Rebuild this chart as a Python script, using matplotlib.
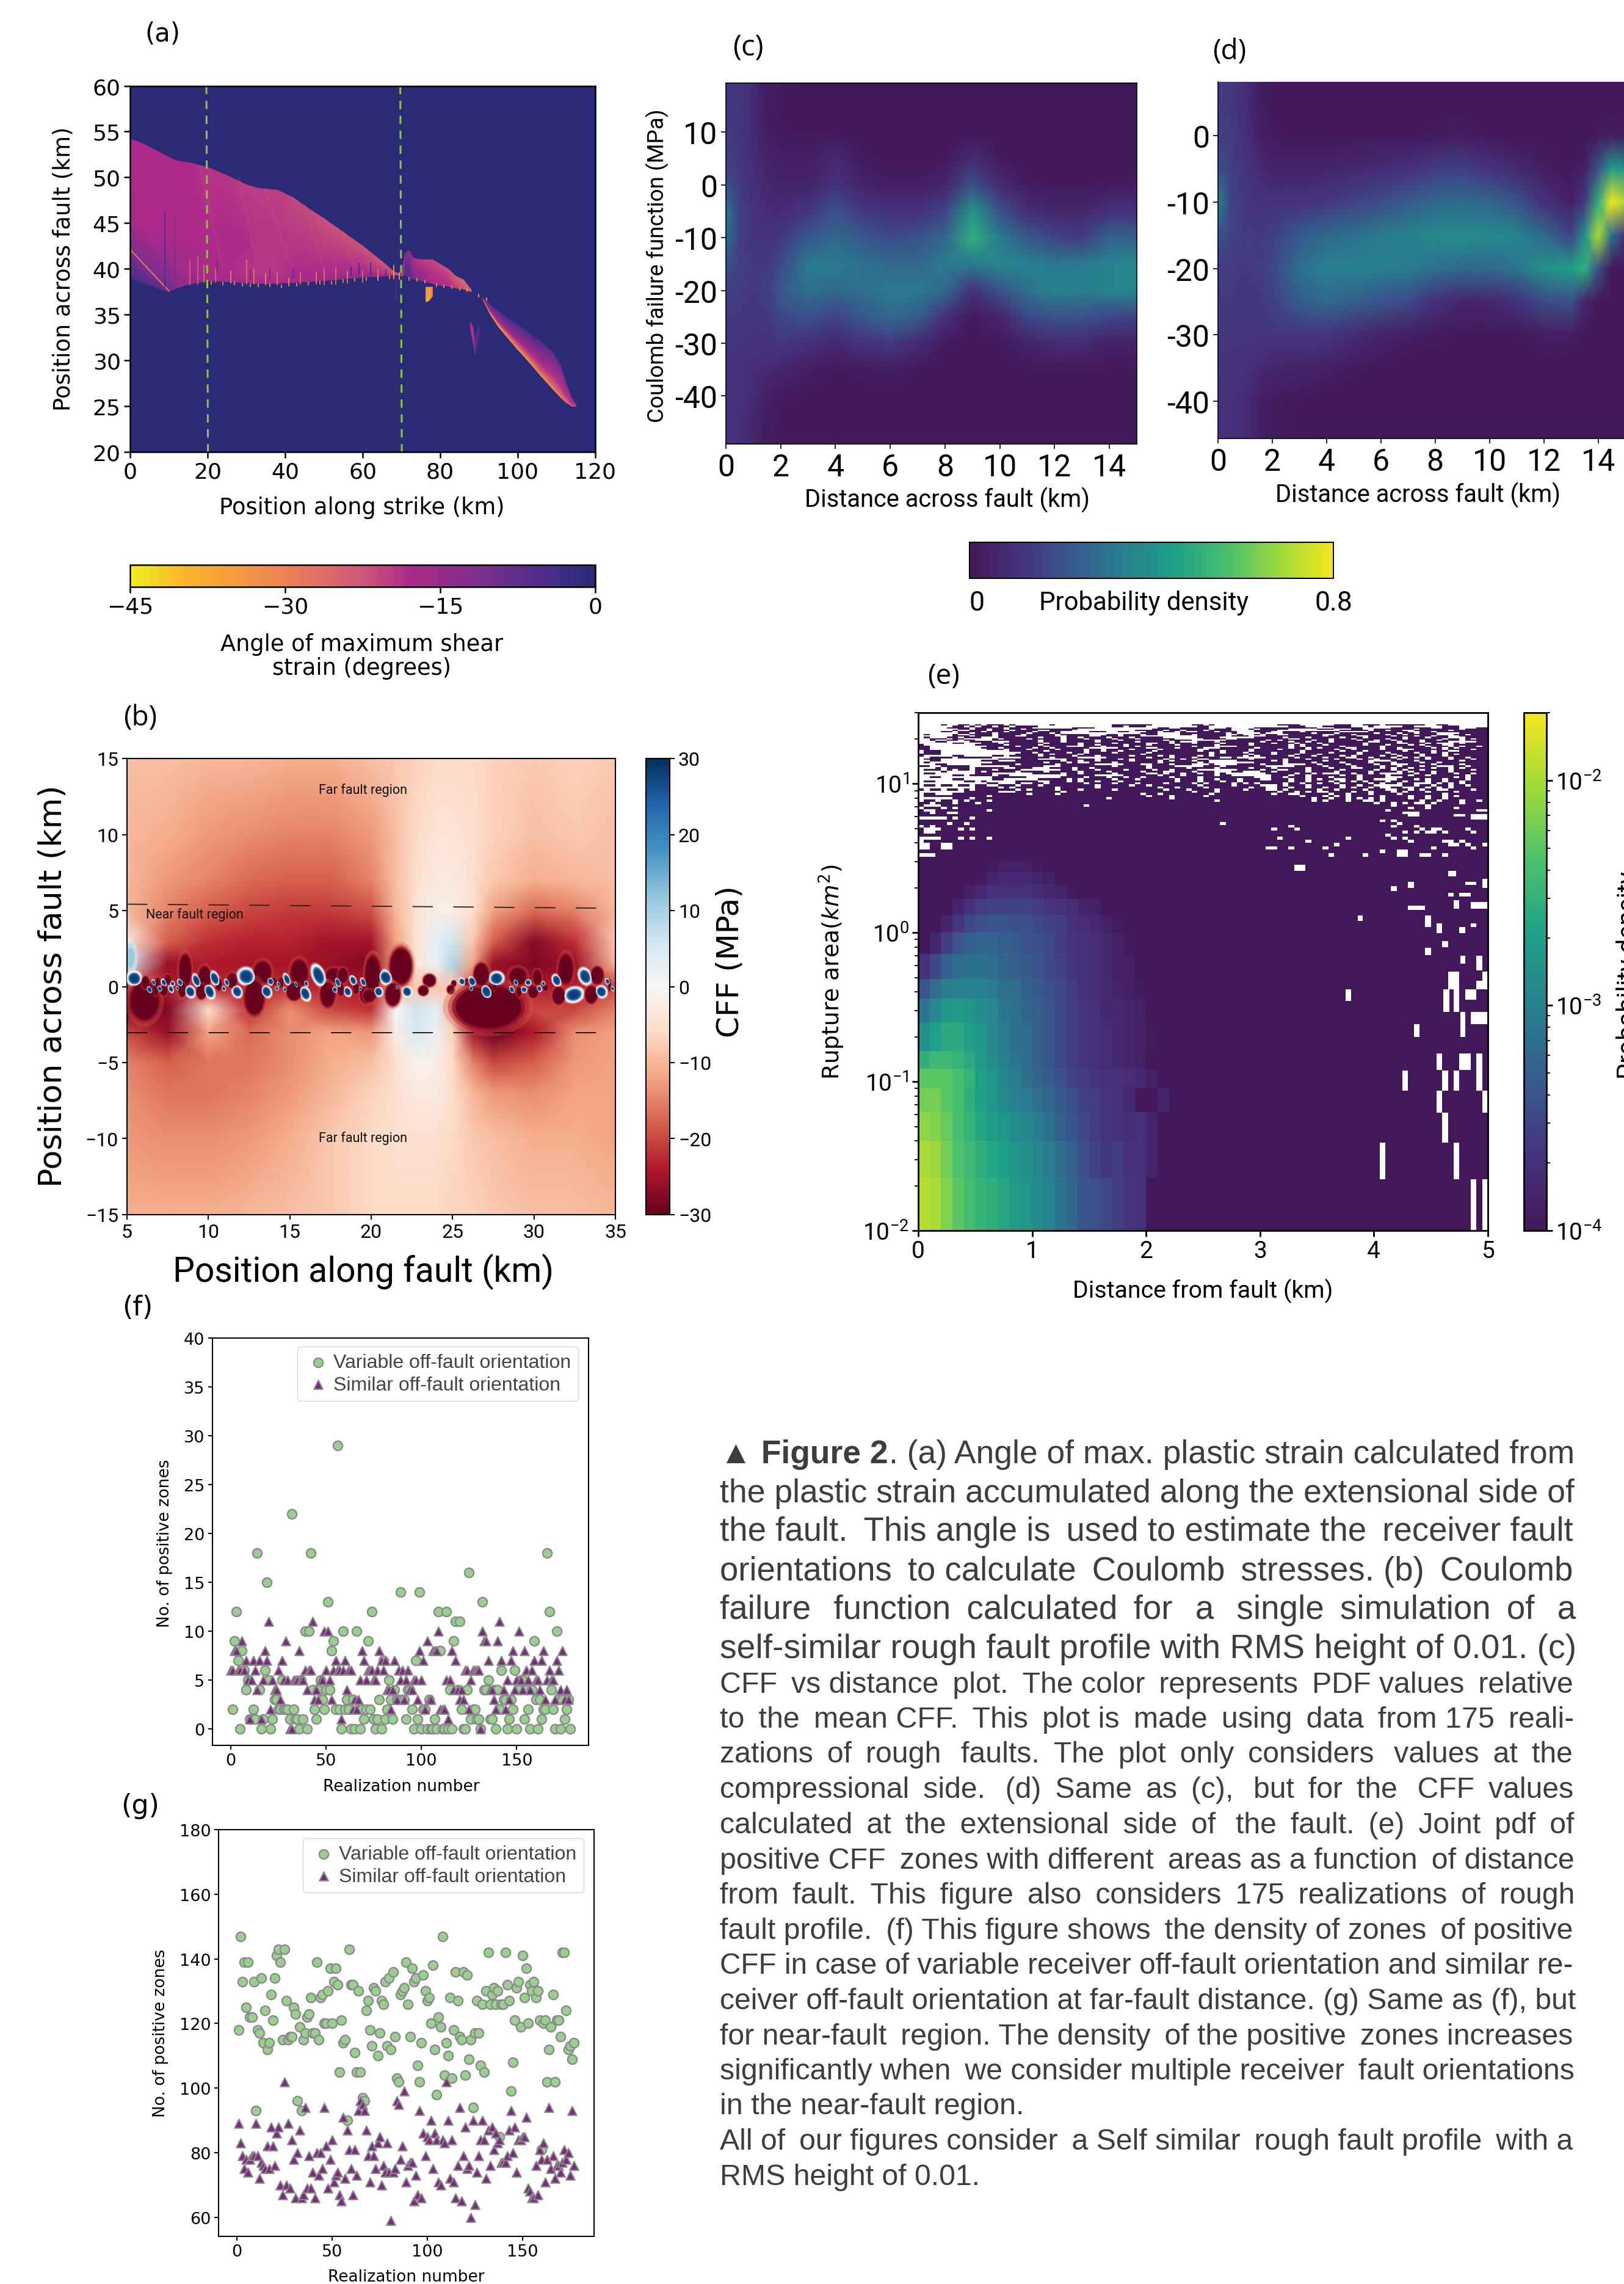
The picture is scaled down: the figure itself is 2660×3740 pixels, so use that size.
import numpy as np
import matplotlib
matplotlib.use('Agg')
import matplotlib.pyplot as plt
from matplotlib.colors import LinearSegmentedColormap, LogNorm, Normalize, ListedColormap
from matplotlib.patches import Ellipse, Rectangle
from matplotlib.cm import ScalarMappable

W, H = 2660, 3741
NARROW = 'Roboto'
plt.rcParams['font.family'] = ['DejaVu Sans']
plt.rcParams['mathtext.default'] = 'regular'

# ---------- panel (a) ----------
a_w1_x = [0, 2, 5, 10, 12, 15, 20, 25, 30, 33, 38, 42, 46, 50, 55, 60, 65, 68, 70]
a_w1_lo = [39, 38.7, 38.2, 37.5, 37.9, 38.3, 38.7, 38.6, 38.5, 38.4, 38.4, 38.5, 38.6, 38.7, 38.9, 39.1, 39.2, 39.3, 39.3]
a_w1_up = [54.2, 53.9, 53.3, 52.2, 51.8, 51.6, 51.1, 50.2, 49.2, 48.8, 48.6, 47.8, 46.6, 45.5, 44.0, 42.5, 40.8, 39.7, 39.3]
a_w1_f = [0, .1, .4, 1]
a_w1_v = [[-4, -5, -6, -8, -14, -14, -17, -17, -17, -17, -17, -17, -16, -15, -14, -14, -14, -16, -18],
          [-8, -9, -11, -12, -15, -16, -18, -18, -19, -19, -19, -18, -18, -18, -17, -17, -17, -19, -21],
          [-17, -18, -18, -18, -18, -18, -18, -18, -18, -19, -19, -19, -19, -19, -19, -19, -20, -21, -23],
          [-18, -18, -18, -18, -18, -18, -19, -19, -20, -20, -20, -21, -21, -22, -22, -22, -23, -23, -25]]
a_w2_x = [70, 71, 72, 73, 75, 78, 80, 82, 84, 86, 88]
a_w2_lo = [39.2, 39.3, 39.0, 38.9, 38.7, 38.4, 38.2, 38.1, 37.9, 37.8, 37.5]
a_w2_up = [39.5, 41.7, 42.0, 41.2, 41.0, 41.0, 40.5, 40.0, 39.2, 38.8, 37.7]
a_w2_f = [0, .5, 1]
a_w2_v = [[-20, -6, -6, -10, -12, -18, -18, -18, -20, -22, -25],
          [-20, -8, -8, -15, -17, -19, -19, -20, -22, -24, -25],
          [-20, -12, -14, -18, -20, -21, -22, -22, -24, -25, -25]]
a_w3_x = [91, 93, 95, 97, 100, 103, 106, 109, 111, 112.5, 114, 115]
a_w3_lo = [36.7, 35.0, 33.7, 32.7, 31.2, 29.8, 28.3, 26.9, 26.0, 25.4, 25.0, 25.0]
a_w3_up = [36.8, 36.0, 35.4, 34.7, 33.9, 33.0, 32.0, 30.9, 29.5, 27.5, 25.8, 25.2]
a_w3_f = [0, .1, .35, 1]
a_w3_v = [[-38, -38, -38, -37, -36, -35, -34, -33, -32, -28, -26, -26],
          [-28, -29, -29, -28, -27, -27, -26, -26, -25, -24, -23, -23],
          [-17, -17, -17, -17, -17, -18, -18, -19, -19, -19, -19, -19],
          [-8, -7, -6, -5, -5, -5, -6, -7, -8, -11, -15, -15]]
a_w4_x = [87.8, 88.5, 89, 89.5, 90.2]
a_w4_lo = [33.5, 32, 30.6, 31.5, 33.4]
a_w4_up = [34.2, 33.5, 32, 33.2, 33.8]
a_w4_f = [0, 1]
a_w4_v = [[-17, -19, -8, -6, -6], [-19, -19, -8, -6, -5]]
a_w5_x = [76.3, 77, 78]
a_w5_lo = [36.4, 36.5, 37]
a_w5_up = [38, 38, 38]
a_w5_f = [0, 1]
a_w5_v = [[-36, -38, -30], [-30, -36, -30]]
a_spike_x = [9.0, 11.5, 15.5, 17.5, 19, 22, 26, 30, 32, 35, 38, 41, 44, 48, 50, 53, 56, 60, 64, 68, 69.5,
             22.5, 31, 36, 42, 57, 59, 62, 66, 68.6]
a_spike_lo = [37.7, 38, 38.2, 38.3, 38.5, 38.5, 38.4, 38.3, 38.3, 38.2, 38.2, 38.1, 38.3, 38.3, 38.2, 38.3, 38.4, 38.5, 38.7, 38.9, 38.8,
              39.5, 38.8, 38.8, 39, 39.2, 39.3, 39.3, 39.3, 36.6]
a_spike_hi = [46.2, 45.8, 41, 41.5, 40.5, 40, 39.8, 41, 40, 39.5, 39.6, 39, 39.6, 39.6, 40, 40.2, 39.8, 39.8, 40, 40.4, 39.6,
              41, 40, 40, 40, 40.3, 40.6, 40.7, 40, 39]
a_spike_v = [-5, -11, -24, -24, -26, -25, -28, -26, -28, -30, -29, -31, -26, -29, -26, -26, -29, -26, -28, -36, -34,
             -8, -8, -8, -6, -4, -4, -4, -6, -6]
a_fringe_x = [21, 24, 27, 29, 31, 33, 36, 39, 43, 46, 49, 52, 55, 58, 61, 64, 67, 72, 74, 76, 79, 81, 83, 85, 87, 90, 92]
a_fringe_y = [38.6, 38.5, 38.5, 38.4, 38.3, 38.3, 38.3, 38.2, 38.4, 38.5, 38.6, 38.6, 38.8, 38.9, 39, 39.1, 39.2, 39, 38.9, 38.7, 38.3, 38.2, 38.1, 37.9, 37.8, 37.2, 36.8]
a_streak_x0 = [35, 45, 28, 55, 18, 60]
a_streak_y0 = [48.7, 47, 50, 44, 51.2, 42.5]
a_streak_x1 = [42, 50, 33, 58, 24, 62]
a_streak_y1 = [39.5, 40, 40, 40, 40, 39.5]

# ---------- panel (b) ----------
b_x = [5, 7.5, 10, 12.5, 15, 17.5, 20, 21.5, 22.75, 24, 25, 26.25, 27.5, 30, 32.5, 35]
b_y = [-15, -10, -7, -5, -3, -1.5, 0, 1.5, 3, 5, 7, 10, 15]
b_grid = [[-11, -11, -11, -10, -9, -8, -6, -6, -6, -6, -7, -7, -8, -9, -9, -10],
          [-13, -14, -14, -13, -11, -8, -6, -5, -5, -5, -6, -8, -9, -11, -11, -12],
          [-14, -16, -16, -15, -13, -10, -7, -5, -3, -3, -5, -10, -13, -14, -12, -12],
          [-15, -18, -16, -16, -14, -11, -9, -5, -1, -2, -6, -15, -20, -18, -13, -12],
          [-20, -26, -12, -17, -14, -12, -13, -2, 5, 2, -7, -25, -30, -24, -14, -12],
          [-28, -28, -5, -22, -14, -20, -22, 0, 6, 3, -10, -30, -30, -20, -20, -15],
          [-22, -24, -22, -24, -22, -24, -24, -12, -8, -8, -8, -20, -26, -24, -24, -20],
          [4, -26, -24, -25, -25, -26, -28, -12, -4, 2, 9, -12, -26, -28, -26, -10],
          [-3, -18, -22, -23, -23, -25, -25, -12, -4, 3, 6, -8, -18, -27, -22, -8],
          [-10, -15, -18, -20, -21, -21, -19, -10, -4, -2, -2, -5, -12, -17, -15, -10],
          [-10, -13, -15, -17, -18, -18, -15, -9, -5, -3, -3, -5, -8, -11, -10, -9],
          [-10, -11, -13, -14, -15, -15, -13, -9, -6, -4, -4, -5, -7, -9, -8, -9],
          [-9, -9, -10, -10, -11, -11, -9, -8, -7, -6, -6, -6, -7, -8, -7, -8]]
b_cticks = [-30, -20, -10, 0, 10, 20, 30]
# lobes: (column, row, width, height) in crop pixels
b_red_left = [(110, 240, 120, 160), (310, 90, 50, 130), (405, 125, 50, 90), (540, 140, 40, 60), (690, 100, 70, 90),
              (870, 105, 70, 110), (1040, 115, 60, 60), (1085, 115, 40, 60), (1235, 90, 60, 120), (205, 190, 30, 40),
              (165, 185, 20, 50), (295, 185, 30, 60), (390, 195, 40, 60), (475, 160, 25, 50), (650, 225, 80, 140),
              (845, 195, 60, 70), (1010, 210, 60, 100), (1075, 185, 25, 50), (1150, 180, 25, 40), (1200, 210, 50, 70),
              (115, 150, 30, 50), (175, 150, 20, 40), (225, 135, 25, 40), (780, 150, 20, 40), (745, 145, 20, 30)]
b_blue_left = [(60, 130, 60, 60), (155, 150, 15, 25), (135, 185, 20, 30), (205, 150, 20, 30), (185, 180, 18, 25),
               (240, 182, 20, 30), (248, 155, 18, 20), (285, 150, 20, 30), (272, 178, 12, 15), (365, 140, 30, 55),
               (335, 195, 40, 50), (455, 130, 35, 60), (430, 195, 40, 60), (515, 150, 18, 30), (500, 180, 15, 20),
               (565, 195, 40, 50), (610, 120, 70, 70), (710, 195, 40, 50), (730, 145, 25, 30), (770, 158, 12, 20),
               (760, 180, 15, 15), (810, 135, 25, 50), (800, 185, 12, 20), (855, 160, 10, 25), (905, 155, 15, 25),
               (900, 205, 40, 60), (965, 115, 50, 90), (1060, 150, 20, 40), (1045, 185, 20, 25), (1135, 140, 25, 40),
               (1108, 195, 30, 40), (1185, 148, 20, 35), (1170, 180, 12, 15)]
b_red_right = [(30, 110, 60, 150), (170, 70, 90, 150), (15, 215, 50, 50), (130, 210, 60, 90), (310, 140, 50, 50),
               (280, 190, 40, 40), (430, 155, 20, 25), (415, 185, 30, 35), (495, 150, 20, 30), (600, 270, 280, 180),
               (565, 110, 60, 90), (745, 120, 70, 70), (750, 195, 20, 40), (820, 195, 40, 50), (840, 125, 35, 60),
               (880, 175, 20, 25), (980, 85, 60, 120), (945, 215, 50, 70), (1105, 210, 50, 70), (1135, 115, 50, 70),
               (1195, 165, 10, 50), (630, 170, 15, 30)]
b_blue_right = [(95, 125, 50, 60), (60, 195, 35, 40), (150, 175, 10, 15), (200, 195, 40, 45), (470, 145, 25, 30),
                (520, 145, 30, 40), (515, 180, 15, 20), (590, 195, 40, 55), (640, 130, 60, 55), (715, 185, 20, 30),
                (735, 150, 18, 25), (775, 185, 25, 25), (795, 150, 25, 25), (850, 180, 20, 25), (870, 155, 14, 20),
                (935, 140, 35, 50), (1020, 210, 80, 60), (1075, 120, 50, 70), (1155, 195, 45, 50), (1185, 145, 18, 25),
                (1210, 180, 12, 20)]
b_soft = [(5.2, 1.9, 0.9, 2.4)]

# ---------- panel (c) ----------
c_x = [0, .5, 1, 1.5, 2, 3, 4, 5, 6, 7, 8, 9, 10, 11, 12, 13, 14, 15]
c_y = [20, 15, 10, 5, 0, -5, -10, -15, -20, -25, -30, -35, -40, -45, -50]
c_grid = [[.13, .12, .08, .02, .01, 0, 0, 0, 0, 0, 0, 0, 0, 0, 0, 0, 0, 0],
          [.13, .12, .08, .02, .01, 0, 0, 0, 0, 0, 0, 0, 0, 0, 0, 0, 0, 0],
          [.14, .12, .08, .03, .02, .01, .01, 0, 0, 0, 0, .01, 0, 0, 0, 0, 0, 0],
          [.15, .13, .09, .05, .03, .03, .07, .02, .01, .01, .01, .08, .01, 0, 0, 0, 0, 0],
          [.2, .14, .1, .07, .05, .05, .11, .05, .03, .03, .06, .2, .08, .02, .01, .01, .02, .02],
          [.32, .15, .11, .09, .08, .12, .2, .13, .1, .1, .16, .42, .2, .09, .06, .06, .1, .1],
          [.3, .15, .12, .11, .13, .22, .27, .22, .18, .2, .27, .5, .33, .22, .16, .14, .25, .24],
          [.2, .15, .13, .13, .18, .33, .33, .3, .27, .27, .33, .33, .37, .35, .32, .33, .36, .37],
          [.15, .14, .13, .15, .22, .3, .27, .3, .33, .33, .27, .1, .2, .3, .36, .34, .36, .37],
          [.13, .13, .12, .13, .17, .2, .16, .22, .27, .24, .1, .01, .06, .17, .2, .2, .17, .16],
          [.12, .12, .11, .11, .13, .1, .07, .11, .13, .08, .02, 0, .01, .05, .08, .08, .04, .04],
          [.11, .1, .09, .08, .06, .03, .01, .02, .03, .01, 0, 0, 0, .01, .01, .01, .01, .01],
          [.11, .1, .08, .04, .02, .01, 0, .01, .01, 0, 0, 0, 0, 0, 0, 0, 0, 0],
          [.11, .1, .06, .02, .01, 0, 0, 0, 0, 0, 0, 0, 0, 0, 0, 0, 0, 0],
          [.11, .1, .06, .02, .01, 0, 0, 0, 0, 0, 0, 0, 0, 0, 0, 0, 0, 0]]
c_yticks = [10, 0, -10, -20, -30, -40]

# ---------- panel (d) ----------
d_x = [0, .5, 1, 1.5, 2, 3, 4, 5, 6, 7, 8, 9, 10, 11, 12, 13, 13.5, 14, 14.5, 15]
d_y = [8.1, 5, 0, -5, -10, -15, -20, -25, -30, -35, -40, -45.6]
d_grid = [[.14, .13, .09, .03, .01, 0, 0, 0, 0, 0, 0, 0, 0, 0, 0, 0, 0, 0, 0, 0],
          [.14, .13, .09, .03, .01, 0, 0, 0, 0, 0, 0, 0, 0, 0, 0, 0, 0, 0, 0, 0],
          [.15, .14, .1, .04, .02, .01, .01, .01, .01, .01, .02, .03, .01, 0, 0, 0, 0, .02, .03, .02],
          [.2, .15, .12, .08, .05, .05, .05, .07, .08, .1, .14, .15, .11, .07, .03, .01, .04, .2, .45, .4],
          [.35, .16, .13, .11, .11, .11, .13, .16, .19, .23, .27, .28, .26, .2, .1, .04, .13, .5, .8, .7],
          [.2, .16, .14, .13, .15, .22, .27, .3, .33, .35, .38, .39, .38, .36, .27, .16, .4, .7, .3, .1],
          [.15, .14, .13, .14, .17, .3, .35, .35, .34, .33, .3, .27, .27, .31, .4, .45, .5, .2, 0, 0],
          [.13, .13, .12, .13, .15, .23, .27, .24, .21, .18, .1, .06, .06, .1, .18, .2, .06, .01, 0, 0],
          [.12, .12, .12, .12, .12, .12, .12, .08, .05, .03, .02, .01, .01, .01, .03, .03, .01, 0, 0, 0],
          [.12, .11, .1, .08, .06, .05, .04, .02, .01, 0, 0, 0, 0, 0, 0, 0, 0, 0, 0, 0],
          [.11, .1, .09, .04, .02, .01, 0, 0, 0, 0, 0, 0, 0, 0, 0, 0, 0, 0, 0, 0],
          [.11, .1, .09, .04, .02, .01, 0, 0, 0, 0, 0, 0, 0, 0, 0, 0, 0, 0, 0, 0]]
d_yticks = [0, -10, -20, -30, -40]

# ---------- panel (e) ----------
e_x_cols = [.1 * i for i in range(23)]
e_row_k = [0, 1, 2, 3, 4, 5, 6, 8, 10, 12, 15, 18, 21, 24, 27, 30, 33]
e_log = [[-1.95, -2.0, -2.15, -2.3, -2.4, -2.5, -2.55, -2.65, -2.75, -2.8, -2.9, -3.0, -3.1, -3.25, -3.4, -3.45, -3.5, -3.6, -3.65, -3.7, -4, -4],
         [-2.0, -2.05, -2.2, -2.35, -2.45, -2.55, -2.65, -2.7, -2.8, -2.85, -2.95, -3.05, -3.2, -3.3, -3.45, -3.55, -3.65, -3.6, -3.7, -3.7, -3.85, -4],
         [-2.1, -2.15, -2.25, -2.4, -2.5, -2.65, -2.75, -2.8, -2.9, -2.95, -3.05, -3.15, -3.3, -3.4, -3.5, -3.6, -3.65, -3.7, -3.75, -3.7, -3.85, -4],
         [-2.2, -2.2, -2.3, -2.4, -2.55, -2.7, -2.8, -2.9, -3, -3.05, -3.15, -3.25, -3.35, -3.45, -3.55, -3.6, -3.65, -3.7, -3.8, -4, -4, -3.85],
         [-2.3, -2.3, -2.3, -2.4, -2.5, -2.7, -2.8, -2.95, -3.05, -3.15, -3.25, -3.35, -3.45, -3.55, -3.6, -3.65, -3.7, -3.7, -3.75, -3.8, -3.9, -4],
         [-2.55, -2.45, -2.45, -2.5, -2.6, -2.75, -2.9, -3, -3.1, -3.2, -3.3, -3.4, -3.5, -3.6, -3.65, -3.7, -3.75, -3.8, -3.85, -3.9, -4, -4],
         [-2.85, -2.7, -2.6, -2.6, -2.7, -2.8, -2.95, -3.05, -3.15, -3.2, -3.3, -3.4, -3.5, -3.6, -3.65, -3.7, -3.75, -3.8, -3.85, -3.9, -3.95, -4],
         [-3.1, -2.95, -2.8, -2.75, -2.8, -2.9, -2.95, -3.1, -3.15, -3.25, -3.3, -3.4, -3.5, -3.6, -3.65, -3.7, -3.8, -3.8, -3.85, -3.9, -4, -4],
         [-3.4, -3.2, -3.05, -3, -3, -3, -3.05, -3.15, -3.2, -3.3, -3.35, -3.45, -3.5, -3.6, -3.7, -3.75, -3.8, -3.85, -3.9, -3.95, -4, -4],
         [-3.7, -3.5, -3.3, -3.2, -3.15, -3.15, -3.2, -3.25, -3.3, -3.35, -3.4, -3.5, -3.55, -3.65, -3.7, -3.75, -3.8, -3.9, -3.9, -4, -4, -4],
         [-4, -3.85, -3.6, -3.4, -3.3, -3.25, -3.25, -3.3, -3.35, -3.4, -3.45, -3.5, -3.6, -3.65, -3.7, -3.75, -3.8, -3.9, -3.95, -4, -4, -4],
         [-4, -4, -3.85, -3.65, -3.5, -3.45, -3.4, -3.4, -3.45, -3.45, -3.5, -3.55, -3.6, -3.7, -3.75, -3.8, -3.9, -3.95, -4, -4, -4, -4],
         [-4, -4, -4, -3.85, -3.7, -3.6, -3.55, -3.55, -3.55, -3.55, -3.6, -3.65, -3.7, -3.75, -3.85, -3.9, -4, -4, -4, -4, -4, -4],
         [-4, -4, -4, -4, -3.9, -3.8, -3.7, -3.7, -3.7, -3.7, -3.75, -3.8, -3.85, -3.95, -4, -4, -4, -4, -4, -4, -4, -4],
         [-4, -4, -4, -4, -4, -3.95, -3.85, -3.8, -3.8, -3.8, -3.85, -3.9, -4, -4, -4, -4, -4, -4, -4, -4, -4, -4],
         [-4, -4, -4, -4, -4, -4, -3.95, -3.9, -3.9, -3.9, -3.95, -4, -4, -4, -4, -4, -4, -4, -4, -4, -4, -4]]
# occupancy of the noisy top rows: '#' populated, '.' empty; first string is bin 97, last is bin 50
e_noise = [
 "....#..##.#.###.#......#..........#######.......##.#...........####......###..###.#######..##........",
 "......##.#.##.##.####.............##.###.........##..............###...#####...#.....##.....###.....",
 ".....####.#####.####.......####...........##..#####...#....###########...#####.....#######..###...##",
 ".......##.##.##.##.#########.............##########.###...#.#####.....###...##..#######.#######.####",
 "......#..###.###.####..####...........#####.##.###.####....####...........#####.##.##..######.######",
 "....##.####.###.####.####.....###..##...##.##.#..###.###...###..###.######.....#######..##.#########",
 ".......##.###.#####.###.#..............###....########.#....#...#####.###.######.###.##.###....######",
 ".#....#..####.####.#####.#####...##.###.##....##.#####..#..#.##..######..###.#####.##.#####...##.###",
 "......###.###.###..#####..####..###.###..........#####.###...##########.#####..####.###.##.##..#####",
 ".#...##.###...#######.###.##.####.###.#####......####......#####.###.#####.###.######.###.###...####",
 "..###.##.....#.####.#####.###.####.###.######.....####..#########..#####.###.#####.##.######.##.#.##",
 "..#..##.##...########.###.#####.###.#######.####......#######.#.#####.##.####.##.##.####.##.###.##",
 "...##....####...#####.###.#####.######.#####.#...###.#######.####.##.###.######..###.###.####.....###",
 "......##...###.#######.#####.#####.#####..##.###.####.####.###.###.###.#######.#####..###.#...#.####",
 "#.........#####.#####.######.##.####.###.####.######.#####.######.#.###.######.###.###.#.###..#####",
 "##..........#####.####.###...###.###.#.#########.###....#########.#.######.######.#######.###.#.##.#",
 "##.........###.#####.##.######.....#####..###.####...######.#####.##.#.####..####.##.#####.#.#.####",
 "##..........###.###.####.####.##.####.####.######..#######.####.####.####.##.####.##...#####.####.##",
 ".###............######.######.##.##.#####.#######.###.####.########.######.###.######.####.##..#####",
 ".###..............##.#####.##.####.#####.##########.#.###.####.####.####.####.####.####.##.#.####",
 "####.............####.#.####.##########.###########.######.###.###.###.######.#####.####.###.#.#####",
 "#.....##.....##.#####.#####.###.#####.####.#.####.#.#####.#.#####.###.####.#.####.##.###.###.####",
 "..####.######.....#####.####.....#######.###.###.####..#.....#####.####.###..##.###.#.#.#.###.##.##",
 ".###..........#######.....#####.###.#.#####.##.##..#######.#####.###.####.###.##.###.####.###.###.#",
 "..##.......###...########.##.##.#####.####.#.###.##.....######.#.######.#######....####.#######.###",
 ".#...........#########.###.#..####.#######.######.#........#####.####.####.####.###.####.##.######",
 "...##......######.######.######.....###..###.###...#....####.###....##.####.####.##...####.####.###",
 "##..#####.......######...#########.#####.####.....###.#######.....#####.####.####.##.###.##...##.###",
 "...#.####.#####..###...####.##.#########.######.####.#####.###.#####.###.###..###.#.##.###.##.#.###",
 ".###.#.##.###.####.......##.###.####.####.##.####.......####.##..###.#####.#####.##.#.##.####.###.",
 "....#.....#.#####.####.#####.####.#####.###..###.###...##...##.#####.####.#####.####.#.###.##.###",
 ".##.......###.......#####.##.#####.#####..#.##.##.##.#.......#####.##.#...##.##.#....##.##.###.##.#",
 "......##.####.##..........#####.....######.###.#####.##.......###.##.#####.##.####.###.##.######.###",
 "..##.........######......####.###.##.##.####.####.#########...##.###.###.####.####...#########.#.#",
 "......##.....##......#####.#.#####.###.######.###.##.###.###..###.##.#.##..##.##....###.#.##.###.##",
 ".##.....##.#.....####..###.#.##.###.#########.###.###.##.########.##.###.#.#.#.###.##.###.##.##.####",
 "............##...#..##.######.####.###.####.####.#.####.#.#.####.##.##.##.#####.#.##.##...#.#.#.###",
 ".##.##.##.##..###.###.#########.#####.##.########.#####.####...#.###.#####.##.##.....##.##.##.##.##",
 "..........####.#.#######.######.##########.##.####.#######.##..##.##.##.##.#.##.#..##..##.#.#.#####",
 "#.##.##.#.#######.#.####.###.#####.########.###.####.####.###..#.#####.##.####.###..##.#.##..####.#",
 "........######...########.######################.###.##########.##.#.#..####.##.###.#.###.####.####",
 ".##...#############.####.##############.##.########.##########.##..#####.##.###.####.#######.####",
 ".###########.###########################.###.#####.################.###.#.#.#####.####.##.##.#.###",
 "......###.#######################.##########.########################.##.##.#.#.#.####.##.##.#####",
 ".##.##.#.###.#######################################.################.#.###.##..#.######.##.###.##.",
 "##.###.###.#####################################################################.##.#.#..#.####.####",
 "#...#########################.#####################################################.#####.######",
 ".###.#.###############################################################################.##.####.###",
]
# empty cells lower down: (bin, first column, last column)
e_empty_cells = [(49, 12, 12), (49, 1, 2), (49, 82, 82), (49, 98, 99), (48, 5, 6), (48, 2, 2), (48, 85, 86), (48, 87, 87),
                 (47, 86, 87), (47, 94, 95), (47, 97, 99), (46, 0, 4), (46, 6, 6), (46, 9, 9), (46, 97, 99),
                 (45, 81, 81), (45, 83, 83), (44, 5, 5), (44, 8, 8), (44, 53, 53), (44, 84, 84),
                 (43, 0, 0), (43, 2, 2), (43, 65, 65), (43, 83, 83), (43, 87, 87),
                 (42, 1, 3), (42, 7, 7), (42, 9, 9), (42, 62, 62), (42, 66, 66), (42, 88, 88), (42, 90, 91), (42, 96, 96),
                 (41, 1, 2), (41, 85, 85), (41, 87, 87), (41, 89, 90), (41, 92, 92), (41, 97, 97), (40, 82, 82),
                 (39, 0, 3), (39, 7, 7), (39, 9, 9), (39, 12, 12), (39, 63, 63), (39, 75, 75), (39, 83, 83), (39, 85, 85),
                 (38, 0, 0), (38, 68, 68), (38, 86, 86), (38, 92, 93), (38, 95, 95),
                 (37, 4, 5), (37, 0, 1), (37, 73, 73), (37, 93, 94), (37, 96, 96), (37, 99, 99),
                 (36, 0, 1), (36, 4, 5), (36, 61, 62), (36, 65, 65), (36, 71, 71), (36, 90, 90), (36, 97, 97),
                 (35, 81, 81), (35, 84, 85), (34, 0, 2), (34, 72, 72), (34, 78, 78), (34, 84, 85), (34, 88, 89), (34, 92, 92)]
# empty blocks near the bottom right: (x0, x1, y0, y1)
e_empty_blocks = [(3.75, 3.8, .349, .417), (4.61, 4.66, .294, .417), (4.70, 4.75, .294, .417), (4.80, 4.90, .356, .417),
                  (4.65, 4.75, .417, .55), (4.9, 5, .417, .475), (4.95, 5, .475, .55), (4.76, 4.8, .62, .70),
                  (4.9, 4.95, .56, .70), (4.45, 4.5, .71, .79), (4.6, 4.65, .80, .88), (4.55, 4.6, .99, 1.16),
                  (4.45, 4.5, 1.09, 1.30), (3.86, 3.9, 1.2, 1.3), (4.75, 4.8, .99, 1.09), (4.85, 4.9, 1.09, 1.16),
                  (4.7, 4.75, 1.45, 1.65), (4.3, 4.45, 1.42, 1.52), (4.85, 5, 1.45, 1.6), (4.76, 4.8, .2, .293),
                  (4.85, 5, .243, .293), (4.35, 4.4, .2, .243), (4.55, 4.6, .12, .155), (4.75, 4.85, .12, .155),
                  (4.9, 4.95, .087, .155), (4.25, 4.3, .087, .119), (4.6, 4.65, .087, .119), (4.7, 4.75, .087, .119),
                  (4.55, 4.6, .062, .087), (4.95, 5, .062, .087), (4.6, 4.65, .039, .062), (4.05, 4.1, .022, .039),
                  (4.7, 4.75, .022, .039), (4.85, 4.9, .01, .022), (4.95, 5, .01, .022),
                  (3.3, 3.4, 2.6, 2.85), (4.15, 4.2, 1.9, 2.05), (4.3, 4.35, 2.0, 2.2), (4.65, 4.72, 2.4, 2.6),
                  (4.95, 5, 2.0, 2.3), (4.8, 4.9, 2.1, 2.2), (4.65, 4.7, 1.75, 1.85), (4.75, 4.85, 1.75, 1.85)]

# ---------- panel (f) ----------
f_var = [2, 9, 12, 7, 0, 8, 6, 4, 5, 1, 1, 2, 1, 18, 4, 0, 1, 6, 15, 5,
         0, 1, 3, 3, 2, 2, 5, 2, 2, 2, 1, 22, 2, 1, 1, 0, 5, 1, 10, 0,
         10, 18, 4, 2, 1, 4, 5, 3, 2, 4, 13, 4, 8, 9, 2, 29, 2, 0, 10, 2,
         3, 2, 0, 3, 0, 10, 2, 0, 2, 1, 2, 9, 2, 12, 1, 0, 1, 3, 0, 7,
         1, 2, 5, 3, 1, 4, 3, 3, 14, 3, 3, 1, 4, 4, 2, 0, 7, 1, 14, 0,
         2, 2, 0, 3, 0, 0, 1, 0, 12, 8, 0, 0, 12, 0, 4, 0, 9, 11, 4, 11,
         2, 0, 0, 4, 16, 1, 2, 2, 1, 1, 0, 13, 4, 4, 5, 1, 1, 4, 0, 4,
         2, 6, 3, 3, 0, 1, 3, 2, 6, 0, 4, 5, 5, 1, 4, 2, 0, 4, 9, 3,
         0, 3, 1, 2, 2, 18, 12, 4, 2, 0, 10, 3, 0, 3, 1, 2, 3, 0]
f_sim = [6, 6, 8, 8, 6, 6, 9, 6, 7, 5, 1, 5, 7, 6, 4, 7, 1, 5, 8, 7,
         11, 2, 5, 4, 4, 6, 3, 7, 5, 9, 5, 0, 0, 5, 5, 5, 8, 5, 5, 6,
         4, 6, 6, 11, 3, 4, 3, 5, 5, 10, 6, 10, 5, 3, 6, 7, 6, 6, 1, 6,
         7, 4, 6, 6, 2, 3, 2, 3, 5, 8, 7, 5, 6, 6, 6, 5, 5, 6, 8, 7,
         6, 7, 4, 4, 2, 4, 7, 3, 6, 5, 6, 3, 5, 6, 4, 4, 5, 5, 3, 8,
         5, 7, 2, 9, 3, 3, 8, 8, 8, 10, 2, 2, 2, 5, 1, 5, 8, 4, 7, 4,
         3, 4, 3, 6, 6, 2, 5, 6, 6, 6, 6, 0, 10, 9, 9, 7, 4, 4, 3, 2,
         9, 11, 7, 4, 2, 5, 3, 7, 8, 4, 5, 10, 5, 4, 8, 6, 5, 4, 6, 7,
         5, 5, 4, 7, 8, 3, 5, 6, 5, 5, 3, 7, 6, 4, 8, 3, 4, 3]
f_yticks = [0, 5, 10, 15, 20, 25, 30, 35, 40]

# ---------- panel (g) ----------
g_var = [118, 147, 133, 139, 125, 139, 122, 122, 133, 93, 118, 117, 134, 114, 124, 112, 114, 129, 121, 134,
         141, 143, 139, 115, 143, 127, 115, 116, 116, 125, 123, 96, 119, 93, 115, 117, 122, 123, 128, 117,
         117, 139, 115, 128, 129, 120, 120, 130, 137, 120, 133, 137, 132, 105, 121, 114, 115, 90, 143, 132,
         132, 111, 105, 130, 105, 97, 96, 124, 127, 118, 113, 131, 130, 110, 117, 127, 126, 133, 113, 134,
         112, 136, 116, 103, 102, 129, 130, 131, 139, 126, 116, 137, 133, 134, 107, 102, 114, 135, 130, 127,
         128, 120, 138, 112, 98, 122, 119, 147, 104, 114, 110, 128, 103, 118, 136, 127, 116, 115, 136, 104,
         135, 109, 115, 94, 117, 127, 117, 107, 126, 105, 130, 142, 126, 129, 131, 126, 130, 85, 126, 126, 142,
         132, 127, 99, 108, 121, 131, 133, 119, 141, 128, 137, 120, 132, 130, 133, 128, 130, 121, 81, 120,
         121, 102, 112, 119, 129, 102, 121, 121, 116, 142, 142, 124, 112, 113, 109, 114]
g_sim = [89, 83, 79, 75, 78, 74, 78, 79, 79, 89, 79, 72, 77, 76, 75, 82, 75, 88, 82, 76,
         86, 88, 70, 67, 102, 70, 89, 69, 84, 78, 66, 80, 87, 66, 67, 94, 69, 79, 69, 74,
         66, 80, 73, 80, 75, 94, 82, 69, 78, 84, 71, 73, 74, 67, 65, 91, 72, 87, 81, 75,
         67, 81, 73, 93, 96, 95, 93, 87, 79, 71, 82, 79, 75, 83, 85, 70, 76, 74, 83, 74,
         59, 74, 75, 96, 95, 78, 82, 99, 71, 76, 77, 77, 65, 73, 67, 93, 66, 86, 79, 85,
         84, 90, 75, 86, 84, 71, 70, 84, 83, 102, 90, 72, 84, 71, 66, 76, 94, 65, 79, 88,
         75, 76, 60, 90, 64, 74, 79, 84, 90, 84, 72, 87, 76, 88, 81, 86, 83, 84, 77, 77,
         77, 79, 87, 93, 80, 88, 74, 84, 84, 85, 85, 91, 69, 68, 66, 66, 76, 67, 81, 78,
         83, 71, 78, 94, 75, 79, 72, 76, 76, 74, 77, 81, 78, 80, 73, 93, 76]
g_yticks = [60, 80, 100, 120, 140, 160, 180]
series_names = ['Variable off-fault orientation', 'Similar off-fault orientation']

# ---------- caption ----------
caption_bold = '▲ Figure 2'
caption_first = '. (a) Angle of max. plastic strain calculated from'
caption_lines = [
 'the plastic strain accumulated along the extensional side of',
 'the fault. This angle is used to estimate the receiver fault',
 'orientations to calculate Coulomb stresses. (b) Coulomb',
 'failure function calculated for a single simulation of a',
 'self-similar rough fault profile with RMS height of 0.01.  (c)',
 'CFF vs distance plot. The color represents PDF values relative',
 'to the mean CFF. This plot is made using data from 175 reali-',
 'zations of rough faults. The plot only considers values at the',
 'compressional side. (d) Same as (c), but for the CFF values',
 'calculated at the extensional side of the fault. (e) Joint pdf of',
 'positive CFF zones with different areas as a function of distance',
 'from fault. This figure also considers 175 realizations of rough',
 'fault profile. (f) This figure shows the density of zones of positive',
 'CFF in case of variable receiver off-fault orientation and similar re-',
 'ceiver off-fault orientation at far-fault distance. (g) Same as (f), but',
 'for near-fault region. The density of the positive zones increases',
 'significantly when we consider multiple receiver fault orientations',
 'in the near-fault region.',
 'All of our figures consider a Self similar rough fault profile with a',
 'RMS height of 0.01.']
caption_short = {'in the near-fault region.': 498, 'RMS height of 0.01.': 426}

# ---------- helpers ----------
fig = plt.figure(figsize=(W / 100, H / 100), dpi=100, facecolor='white')
renderer = fig.canvas.get_renderer()
def axpx(x0, y0, x1, y1):
    return fig.add_axes([x0 / W, 1 - y1 / H, (x1 - x0) / W, (y1 - y0) / H])
def tx(px, py, s, ha='center', va='center', fit=None, **kw):
    t = fig.text(px / W, 1 - py / H, s, ha=ha, va=va, **kw)
    if fit:
        e = t.get_window_extent(renderer)
        t.set_fontsize(t.get_fontsize() * fit / max(e.width, e.height))
    return t
def style(ax, lw, length, size, family='DejaVu Sans', pad=4):
    for sp in ax.spines.values():
        sp.set_linewidth(lw)
    ax.tick_params(width=lw, length=length, labelsize=size, labelfontfamily=family, pad=pad)

cm_a = LinearSegmentedColormap.from_list('a', [(0, '#f0ee21'), (.12, '#fbb32a'), (.33, '#ef8255'), (.5, '#cd5878'),
                                               (.6, '#ad2a8a'), (.75, '#7d2f8c'), (.9, '#4a2c8b'), (1, '#2b2a76')])
norm_a = Normalize(-45, 0)
cm_v = LinearSegmentedColormap.from_list('v', ['#43185a', '#46337f', '#365c8d', '#277f8e', '#1fa187', '#4ac16d', '#a0da39', '#f5e61f'])

# (a)
axa = axpx(213, 141.5, 975, 741)
axa.set_facecolor(cm_a(1.0))
def wedge(xs, lo, up, fr, vals):
    xs, lo, up = map(np.array, (xs, lo, up))
    X = np.tile(xs, (len(fr), 1))
    Y = np.array([lo + f * (up - lo) for f in fr])
    axa.pcolormesh(X, Y, np.array(vals, float), shading='gouraud', cmap=cm_a, norm=norm_a)
wedge(a_w1_x, a_w1_lo, a_w1_up, a_w1_f, a_w1_v)
wedge(a_w2_x, a_w2_lo, a_w2_up, a_w2_f, a_w2_v)
wedge(a_w3_x, a_w3_lo, a_w3_up, a_w3_f, a_w3_v)
wedge(a_w4_x, a_w4_lo, a_w4_up, a_w4_f, a_w4_v)
wedge(a_w5_x, a_w5_lo, a_w5_up, a_w5_f, a_w5_v)
axa.plot([0.3, 10], [42, 37.6], color=cm_a(norm_a(-27)), lw=1.6)
for x0, y0, x1, y1 in zip(a_streak_x0, a_streak_y0, a_streak_x1, a_streak_y1):
    axa.plot([x0, x1], [y0, y1], color=cm_a(norm_a(-26)), lw=3, alpha=.13)
axa.vlines(a_spike_x, a_spike_lo, a_spike_hi, colors=cm_a(norm_a(np.array(a_spike_v))), lw=1.3)
axa.vlines(a_fringe_x, np.array(a_fringe_y) - .3, np.array(a_fringe_y) + .1, colors=cm_a(norm_a(-38)), lw=1.1)
axa.plot([19.7, 20.1], [60, 20], color='#8cc63f', lw=2.2, ls=(0, (4.5, 3.5)))
axa.plot([69.7, 70.1], [60, 20], color='#8cc63f', lw=2.2, ls=(0, (4.5, 3.5)))
axa.set_xlim(0, 120); axa.set_ylim(20, 60)
axa.set_xticks(range(0, 121, 20)); axa.set_yticks(range(20, 61, 5))
style(axa, 1.8, 7, 26)
tx(593, 832, 'Position along strike (km)', fontsize=26.5)
tx(104, 440, 'Position across fault (km)', fontsize=26.5, rotation=90)
tx(266, 56, '(a)', fontsize=30)
caxa = axpx(213, 925.5, 975, 962)
cba = fig.colorbar(ScalarMappable(norm_a, cm_a), cax=caxa, orientation='horizontal')
cba.set_ticks([-45, -30, -15, 0]); style(caxa, 1.8, 7, 26)
tx(593, 1075, 'Angle of maximum shear\nstrain (degrees)', fontsize=26.5, linespacing=1.1)

# (b)
axb = axpx(208, 1243, 1008, 1990)
axb.pcolormesh(b_x, b_y, np.array(b_grid, float), shading='gouraud', cmap='RdBu', vmin=-30, vmax=30)
axb.set_xlim(5, 35); axb.set_ylim(-15, 15)
def km(lst, x0):
    return [(x0 + X / 80, (170 - Y) / 74.7, W_ / 80, H_ / 74.7) for X, Y, W_, H_ in lst]
reds = km(b_red_left, 4.7) + km(b_red_right, 19.7)
blues = km(b_blue_left, 4.7) + km(b_blue_right, 19.7)
for x, y, w, h in b_soft:
    for s, col, al in ((1.0, '#d8e8f2', .6), (.8, '#bcdaea', .8), (.55, '#92c5de', .8)):
        axb.add_patch(Ellipse((x, y), w * s, h * s, fc=col, ec='none', alpha=al, zorder=2))
for x, y, w, h in blues:
    for s, col, al in ((1.5, '#fddbc7', .4), (1.32, '#f7f7f7', .8)):
        axb.add_patch(Ellipse((x, y), w * s, h * s, angle=20, fc=col, ec='none', alpha=al, zorder=3))
for x, y, w, h in reds:
    for s, col, al in ((1.6, '#d6604d', .3), (1.42, '#b2182b', .45), (1.28, '#8e0d25', .75), (1.15, '#67001f', 1)):
        axb.add_patch(Ellipse((x, y), w * s, h * s, fc=col, ec='none', alpha=al, zorder=4))
for x, y, w, h in blues:
    for s, col in ((1.18, '#f7f7f7'), (1.08, '#d1e5f0'), (1.0, '#92c5de'), (.93, '#4393c3'), (.85, '#1f5f9f'), (.65, '#0d3f78')):
        axb.add_patch(Ellipse((x, y), w * s, h * s, angle=20, fc=col, ec='none', zorder=5))
axb.plot([5, 35], [5.42, 5.15], color='#222222', lw=1.3, ls=(0, (18.5, 18.5)), zorder=6)
axb.plot([5, 35], [-3.02, -3.02], color='#111111', lw=1.3, ls=(0, (18.5, 18.5)), zorder=6)
axb.set_xticks(range(5, 36, 5)); axb.set_yticks(range(-15, 16, 5))
style(axb, 1.5, 6, 23, NARROW)
kw = dict(family=NARROW, fontsize=15.5, ha='center', va='center', zorder=7, color='#111111')
axb.text(19.5, 12.95, 'Far fault region', **kw)
axb.text(19.5, -9.95, 'Far fault region', **kw)
axb.text(9.15, 4.75, 'Near fault region', **kw)
tx(595, 2082, 'Position along fault (km)', fontsize=44, family=NARROW, fit=625)
tx(87, 1615, 'Position across fault (km)', fontsize=37.5, rotation=90)
tx(230, 1176, '(b)', fontsize=33, family='Open Sans')
tx(1196, 1575, 'CFF (MPa)', fontsize=36, rotation=90)
caxb = axpx(1058, 1243, 1097, 1990)
cbb = fig.colorbar(ScalarMappable(Normalize(-30, 30), 'RdBu'), cax=caxb)
cbb.set_ticks(b_cticks); style(caxb, 1.5, 6, 23, NARROW)

# (c)
axc = axpx(1189, 137, 1862, 728)
axc.pcolormesh(c_x, c_y, np.array(c_grid), shading='gouraud', cmap=cm_v, vmin=0, vmax=.8)
axc.set_xlim(0, 15); axc.set_ylim(-49.1, 19.3)
axc.set_xticks(range(0, 15, 2)); axc.set_yticks(c_yticks)
axc.set_yticklabels([str(v) for v in c_yticks])
style(axc, 1.2, 6, 36, NARROW)
tx(1552, 819, 'Distance across fault (km)', fontsize=32, family=NARROW, fit=469)
tx(1077, 435, 'Coulomb failure function (MPa)', fontsize=30, family=NARROW, rotation=90, fit=513)
tx(1225, 78, '(c)', fontsize=34, family='Open Sans')

# (d)
axd = axpx(1995, 135, 2662, 719)
axd.pcolormesh(d_x, d_y, np.array(d_grid), shading='gouraud', cmap=cm_v, vmin=0, vmax=.8)
axd.set_xlim(0, 15); axd.set_ylim(-45.6, 8.1)
axd.set_xticks(range(0, 15, 2)); axd.set_yticks(d_yticks)
axd.set_yticklabels([str(v) for v in d_yticks])
style(axd, 1.2, 6, 36, NARROW)
for s in ('top', 'right'):
    axd.spines[s].set_visible(False)
tx(2323, 811, 'Distance across fault (km)', fontsize=32, family=NARROW, fit=469)
tx(2014, 85, '(d)', fontsize=33, family='Open Sans')

caxv = axpx(1588, 889, 2184, 948)
cbv = fig.colorbar(ScalarMappable(Normalize(0, .8), cm_v), cax=caxv, orientation='horizontal')
cbv.set_ticks([]); cbv.outline.set_linewidth(1.5)
tx(1600, 988, '0', fontsize=32, family=NARROW)
tx(1874, 988, 'Probability density', fontsize=32, family=NARROW, fit=344)
tx(2184, 988, '0.8', fontsize=32, family=NARROW)

# (e)
axe = axpx(1504, 1168, 2437, 2016)
axe.set_facecolor(cm_v(0.0))
yk = lambda k: (0.1 + 0.05 * np.asarray(k, float)) ** 2
norm_e = LogNorm(1e-4, 2e-2)
axe.pcolormesh(e_x_cols, yk(e_row_k), 10 ** np.array(e_log), cmap=cm_v, norm=norm_e, antialiased=False)
M = np.zeros((108, 100), bool)
M[98:, :] = True
for i, row in enumerate(e_noise):
    row = row.ljust(100, '#')[:100]
    M[97 - i] = [c == '.' for c in row]
for k, c0, c1 in e_empty_cells:
    M[k, c0:c1 + 1] = True
axe.pcolormesh(np.arange(101) * .05, yk(np.arange(109)), np.ma.masked_where(~M, M.astype(float)),
               cmap=ListedColormap(['white']), vmin=0, vmax=1, antialiased=False)
for x0, x1, y0, y1 in e_empty_blocks:
    axe.add_patch(Rectangle((x0, y0), x1 - x0, y1 - y0, fc='white', ec='none'))
axe.set_yscale('log'); axe.set_xlim(0, 5); axe.set_ylim(.01, 30)
axe.set_xticks(range(6))
style(axe, 2, 7, 28, NARROW)
axe.tick_params(which='minor', width=1.3, length=4)
tx(1970, 2114, 'Distance from fault (km)', fontsize=31, family=NARROW, fit=426)
tx(1362, 1592, 'Rupture area($\\mathit{km}^2$)', fontsize=27, rotation=90)
tx(1546, 1108, '(e)', fontsize=33, family='Open Sans')
caxe = axpx(2496, 1168, 2533, 2016)
cbe = fig.colorbar(ScalarMappable(norm_e, cm_v), cax=caxe)
style(caxe, 2, 7, 28, NARROW)
caxe.tick_params(which='minor', width=1.3, length=4)
tx(2668, 1597, 'Probability density', fontsize=31, family=NARROW, rotation=90, fit=340)

# (f), (g)
GREEN, PURPLE, EDGE = '#9ad08f', '#7b2a7e', '#8a8a8a'
def scatter_panel(box, var, sim, yticks, ylim, legbox, xlab, ylab, lab, labxy):
    ax = axpx(*box)
    xv = np.arange(1, 1 + len(var))
    xs = np.arange(0, len(sim)) if len(sim) == 178 else np.arange(1, len(sim) + 1)
    ax.scatter(xv, var, s=120, c=GREEN, edgecolors=EDGE, linewidths=1.7, label=series_names[0], zorder=3)
    ax.scatter(xs, sim, s=110, c=PURPLE, marker='^', edgecolors=EDGE, linewidths=1.5, label=series_names[1], zorder=4)
    ax.set_xlim(-9.5, 187.6); ax.set_ylim(*ylim)
    ax.set_xticks([0, 50, 100, 150]); ax.set_yticks(yticks)
    style(ax, 1.5, 5, 19.5)
    ax.legend(loc='upper left', bbox_to_anchor=(legbox[0] / W, 1 - legbox[1] / H), bbox_transform=fig.transFigure,
              borderaxespad=0, prop={'family': 'Liberation Sans', 'size': 23}, labelcolor='#444444',
              labelspacing=.2, handlelength=1.4, handletextpad=.1, borderpad=.35, framealpha=.8, edgecolor='#cccccc')
    tx(xlab[0], xlab[1], 'Realization number', fontsize=19)
    tx(ylab[0], ylab[1], 'No. of positive zones', fontsize=19, rotation=90)
    tx(labxy[0], labxy[1], lab, fontsize=32)
scatter_panel((348, 2192, 964, 2859), f_var, f_sim, f_yticks, (-1.67, 40), (487, 2206), (657, 2926), (270, 2527), '(f)', (225, 2142))
scatter_panel((358, 2997, 973, 3663), g_var, g_sim, g_yticks, (54.1, 180), (496, 3011), (665, 3729), (263, 3329), '(g)', (230, 2958))

# caption
L, R = 1179, 2577
CAP = '#3d3d3d'
FAM = ['Liberation Sans', 'DejaVu Sans']
def width(t):
    return t.get_window_extent(renderer).width
def fit_text(x0, x1, py, s, base, **kw):
    t = tx(x0, py, s, ha='left', color=CAP, fontsize=base, **kw)
    t.set_fontsize(base * (x1 - x0) / width(t))
    return t
def measure_size(s, target):
    t = fig.text(0, 0, s, family='Liberation Sans', fontsize=30)
    size = 30 * target / width(t)
    t.remove()
    return size
THIN = '\u2009'
def justify(py, s, base):
    t = tx(L, py, s, ha='left', color=CAP, fontsize=base, family=FAM)
    words = s.split()
    natural = width(t)
    t.set_text('a' + THIN + 'a'); aa = width(t); t.set_text('aa'); thin = max(aa - width(t), .5)
    t.set_text(s)
    gaps = len(words) - 1
    extra = max(int(round((R - L - natural) / thin)), 0)
    parts = [words[0]]
    done = 0
    for i, w_ in enumerate(words[1:], 1):
        n = int(round(extra * i / gaps)) - done
        done += n
        parts.append(' ' + THIN * n + w_)
    t.set_text(''.join(parts))
    t.set_fontsize(base * (R - L) / width(t))
size_top = measure_size('self-similar rough fault profile with RMS height of 0.01.  (c)', R - L)
size_low = measure_size('RMS height of 0.01.', 426)
ys = [2446, 2509, 2574, 2637, 2701, 2759, 2817, 2874, 2932, 2990, 3048, 3105, 3163, 3220, 3278, 3336, 3393, 3450, 3508, 3566]
fit_text(L, 1454, 2382, caption_bold, size_top, family=FAM, fontweight='bold')
fit_text(1456, R, 2382, caption_first, size_top, family='Liberation Sans')
for i, (y, s) in enumerate(zip(ys, caption_lines)):
    base = size_top if i < 5 else size_low
    if s in caption_short:
        fit_text(L, L + caption_short[s], y, s, base, family='Liberation Sans')
    else:
        justify(y, s, base)

fig.savefig('out.png', dpi=100)
